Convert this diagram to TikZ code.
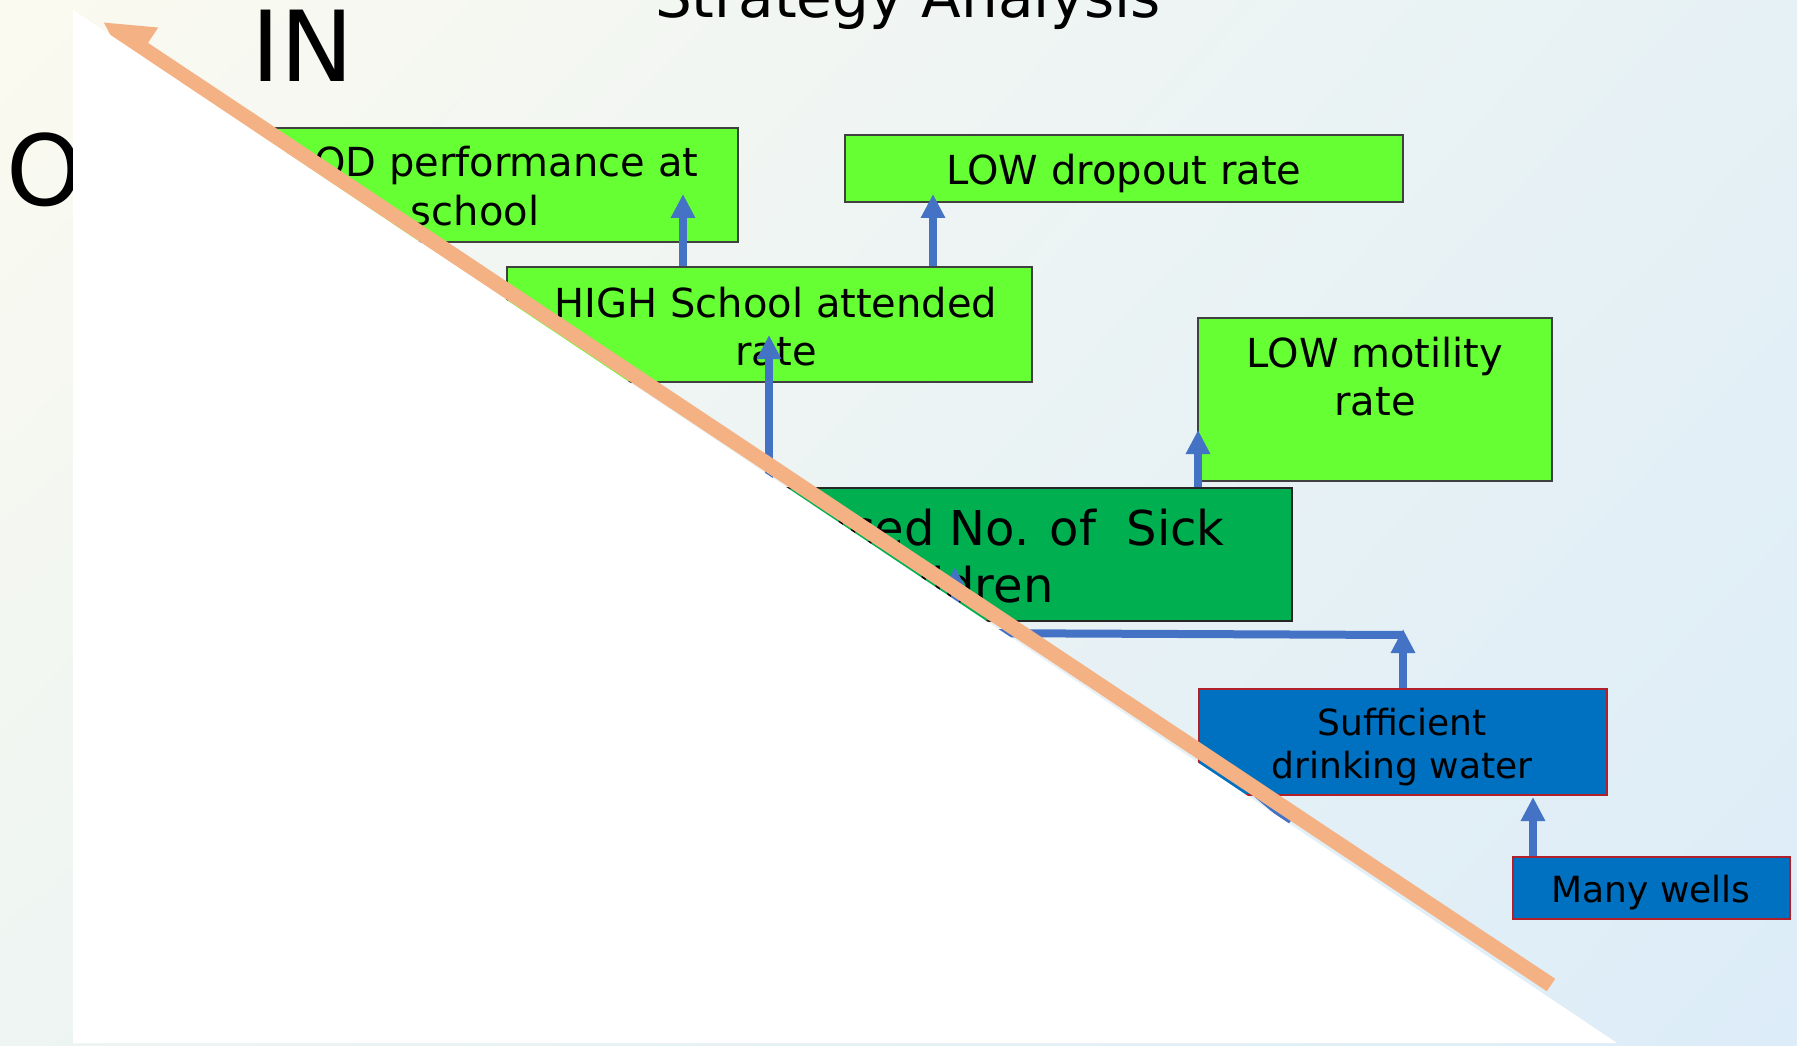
\documentclass[tikz,border=0pt]{standalone}
\usepackage{fontspec}
\setmainfont{DejaVu Sans}
\usetikzlibrary{arrows.meta,shadings}

\definecolor{bgUL}{HTML}{FBFAF0}
\definecolor{bgUR}{HTML}{E6F1F5}
\definecolor{bgLL}{HTML}{EEF5F2}
\definecolor{bgLR}{HTML}{DCECF8}
\definecolor{goalgreen}{HTML}{66FF33}
\definecolor{coregreen}{HTML}{00B050}
\definecolor{meansblue}{HTML}{0070C0}
\definecolor{linkblue}{HTML}{4472C4}
\definecolor{slopeorange}{HTML}{F4B183}
\definecolor{edgegray}{HTML}{404040}
\definecolor{edgered}{HTML}{B0202A}

\newcommand\fsTitle{\fontsize{23.2pt}{27.84pt}\selectfont}
\newcommand\fsSide{\fontsize{39.2pt}{47pt}\selectfont}
\newcommand\fsBox{\fontsize{16pt}{19.2pt}\selectfont}
\newcommand\fsCore{\fontsize{19.2pt}{23.04pt}\selectfont}
\newcommand\fsBase{\fontsize{14.4pt}{17.28pt}\selectfont}

\begin{document}
\begin{tikzpicture}[x=0.4pt,y=-0.4pt,
  goalbox/.style={rectangle, draw=edgegray, line width=0.6pt, fill=goalgreen, inner sep=0pt},
  corebox/.style={rectangle, draw=black!85, line width=0.6pt, fill=coregreen, inner sep=0pt},
  basebox/.style={rectangle, draw=edgered, line width=0.6pt, fill=meansblue, inner sep=0pt},
  boxtext/.style={inner sep=0pt, align=center, text=black},
  conn/.style={draw=linkblue, line width=3.2pt, -{Triangle[length=9.6pt,width=9.2pt]}},
  connline/.style={draw=linkblue, line width=3.2pt},
  slope/.style={draw=slopeorange, line width=6pt, -{Triangle[length=19.6pt,width=19.2pt]}}]

\useasboundingbox (0,0) rectangle (1797,1045);

% background
\shade[upper left=bgUL, upper right=bgUR, lower left=bgLL, lower right=bgLR]
  (0,0) rectangle (1797,1045);

% headings
\node[anchor=base, font=\fsTitle, inner sep=0pt] (title) at (908,18) {Strategy Analysis};
\node[anchor=base west, font=\fsSide, inner sep=0pt] (inlabel) at (251,82) {IN};
\node[anchor=base west, font=\fsSide, inner sep=0pt] (outlabel) at (6,206) {O};

% boxes
\node[goalbox, minimum width=210.4pt, minimum height=45.6pt] (b1) at (475,185) {};
\node[goalbox, minimum width=223.2pt, minimum height=26.8pt] (b2) at (1124,168.5) {};
\node[goalbox, minimum width=210pt, minimum height=46pt] (b3) at (769.5,324.5) {};
\node[goalbox, minimum width=141.6pt, minimum height=65.2pt] (b4) at (1375,399.5) {};
\node[corebox, minimum width=263.2pt, minimum height=53.2pt] (b5) at (963,554.5) {};
\node[basebox, minimum width=163.2pt, minimum height=42.4pt] (b6) at (1403,742) {};
\node[basebox, minimum width=110.8pt, minimum height=24.8pt] (b7) at (1651.5,888) {};

% box texts
\node[boxtext, font=\fsBox] (t1) at (475,191.4) {\strut GOOD performance at\\\strut school};
\node[boxtext, font=\fsBox] (t2) at (1124,175.4) {\strut LOW dropout rate};
\node[boxtext, font=\fsBox] (t3) at (776,331.4) {\strut HIGH School attended\\\strut rate};
\node[boxtext, font=\fsBox] (t4) at (1375,381.4) {\strut LOW motility\\\strut rate};
\node[boxtext, font=\fsCore, anchor=base east] (t5a) at (1225,545) {Reduced No. of~ Sick};
\node[boxtext, font=\fsCore, anchor=base east] (t5b) at (1054,602) {Children};
\node[boxtext, font=\fsBase] (t6) at (1402,748) {\strut Sufficient\\\strut drinking water};
\node[boxtext, font=\fsBase] (t7) at (1651,893.4) {\strut Many wells};

% connectors
\coordinate (p1) at (683,194);
\coordinate (p2) at (933,194);
\coordinate (p3) at (769,335);
\coordinate (p4) at (1198,430);
\coordinate (p5) at (1403,629);
\coordinate (p7) at (1533,797);
\coordinate (q1) at (1403,635);
\coordinate (q2) at (955,633);
\coordinate (p6) at (955,567);
\coordinate (s1) at (1255,792);
\coordinate (s2) at (1290,822);

\draw[conn] (b3.north -| p1) -- (p1);
\draw[conn] (b3.north -| p2) -- (p2);
\draw[conn] (b5.north -| p3) -- (p3);
\draw[conn] (b5.north -| p4) -- (p4);
\draw[conn] (b6.north) -- (p5);
\draw[conn] (q1) -- (q2) -- (p6);
\draw[conn] (b7.north -| p7) -- (p7);
\draw[connline] (s1) -- (s2);

% slope arrow and the white wedge in front of the lower-left part
\coordinate (o1) at (1551,985);
\coordinate (o2) at (103,22);
\draw[slope] (o1) -- (o2);
\fill[white] (73,10) -- (73,1043) -- (1617,1043) -- cycle;

\end{tikzpicture}
\end{document}
